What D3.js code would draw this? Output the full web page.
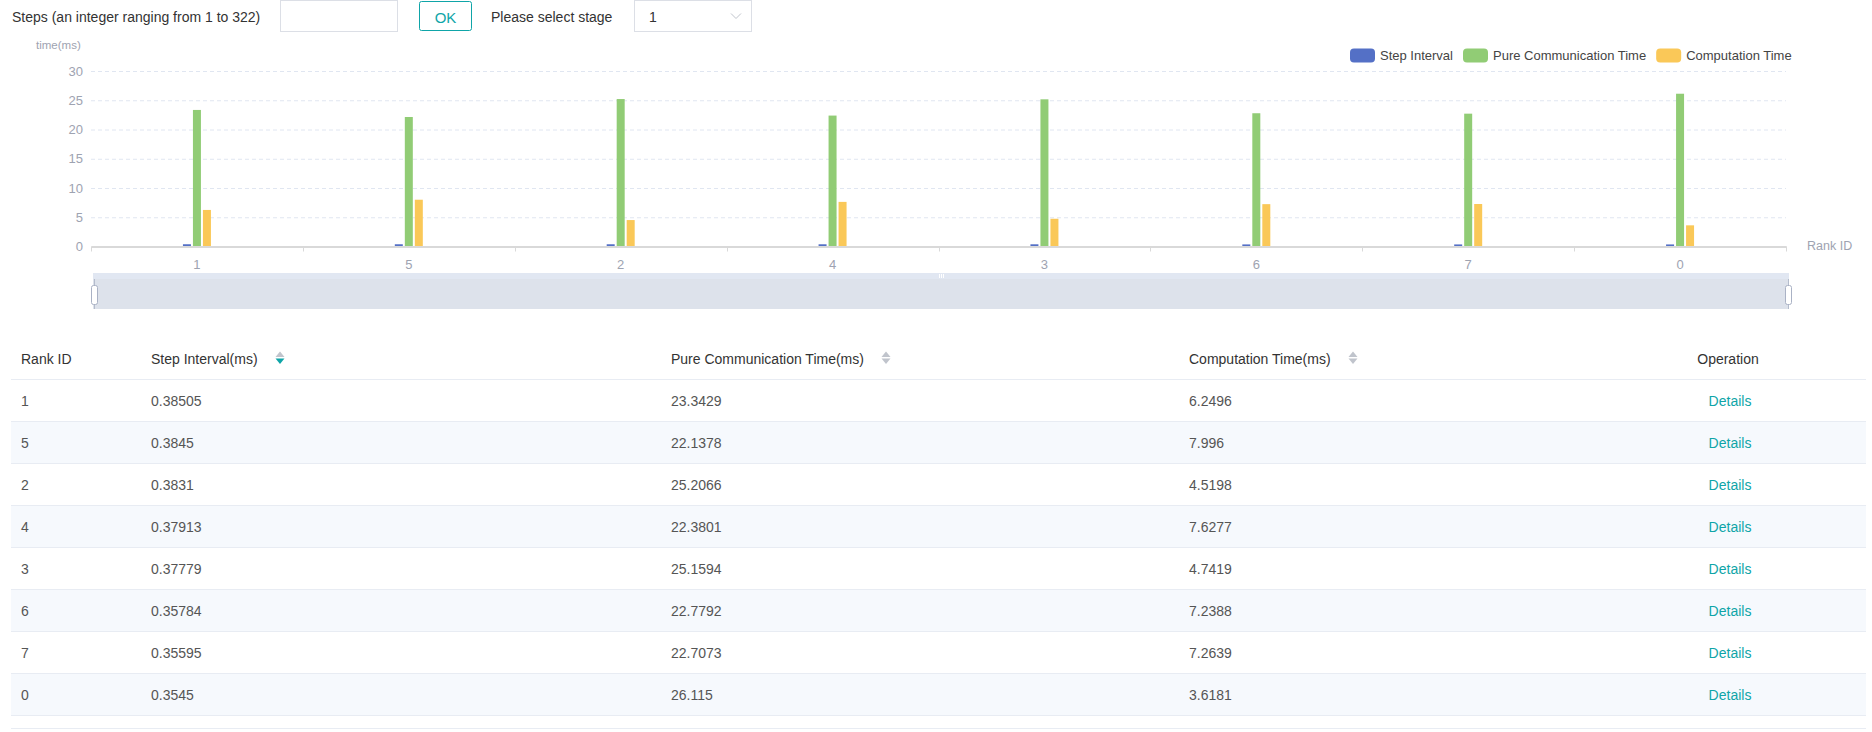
<!DOCTYPE html>
<html>
<head>
<meta charset="utf-8">
<script src="https://cdn.jsdelivr.net/npm/d3@7"></script>
<style>
  body { margin: 0; background: #fff; font-family: "Liberation Sans", Arial, sans-serif; }
  svg text { font-family: "Liberation Sans", Arial, sans-serif; }
</style>
</head>
<body>
<svg id="page" width="1872" height="732"></svg>
<script>
// chart data
var rankIds = ['1', '5', '2', '4', '3', '6', '7', '0'];
var stepInterval = [0.38505, 0.3845, 0.3831, 0.37913, 0.37779, 0.35784, 0.35595, 0.3545];
var pureComm = [23.3429, 22.1378, 25.2066, 22.3801, 25.1594, 22.7792, 22.7073, 26.115];
var computation = [6.2496, 7.996, 4.5198, 7.6277, 4.7419, 7.2388, 7.2639, 3.6181];
var seriesNames = ['Step Interval', 'Pure Communication Time', 'Computation Time'];
var seriesColors = ['#5470c6', '#91cc75', '#fac858'];
var tableHeaders = ['Rank ID', 'Step Interval(ms)', 'Pure Communication Time(ms)', 'Computation Time(ms)', 'Operation'];
// raw strings as shown in the table
var stepText = ['0.38505', '0.3845', '0.3831', '0.37913', '0.37779', '0.35784', '0.35595', '0.3545'];
var pureText = ['23.3429', '22.1378', '25.2066', '22.3801', '25.1594', '22.7792', '22.7073', '26.115'];
var compText = ['6.2496', '7.996', '4.5198', '7.6277', '4.7419', '7.2388', '7.2639', '3.6181'];

var teal = '#0fa5a8';
var labelColor = '#9ea3b1';
var svg = d3.select('#page');

// ---------- top controls ----------
var controls = svg.append('g');
controls.append('text').attr('x', 12).attr('y', 17).attr('dominant-baseline', 'central')
  .attr('font-size', 14).attr('fill', '#333').text('Steps (an integer ranging from 1 to 322)');
controls.append('rect').attr('x', 280.5).attr('y', 0.5).attr('width', 117).attr('height', 31)
  .attr('fill', '#fff').attr('stroke', '#dcdfe6');
controls.append('rect').attr('x', 419.5).attr('y', 1.5).attr('width', 52).attr('height', 29).attr('rx', 2)
  .attr('fill', '#fff').attr('stroke', teal);
controls.append('text').attr('x', 445.5).attr('y', 17).attr('text-anchor', 'middle').attr('dominant-baseline', 'central')
  .attr('font-size', 15).attr('fill', teal).text('OK');
controls.append('text').attr('x', 491).attr('y', 17).attr('dominant-baseline', 'central')
  .attr('font-size', 14).attr('fill', '#333').text('Please select stage');
controls.append('rect').attr('x', 634.5).attr('y', 0.5).attr('width', 117).attr('height', 31)
  .attr('fill', '#fff').attr('stroke', '#dcdfe6');
controls.append('text').attr('x', 649).attr('y', 17).attr('dominant-baseline', 'central')
  .attr('font-size', 14).attr('fill', '#333').text('1');
controls.append('path').attr('d', 'M731,13.5 L736,18.5 L741,13.5').attr('fill', 'none')
  .attr('stroke', '#c0c4cc').attr('stroke-width', 1);

// ---------- bar chart ----------
var chart = svg.append('g');
var x0 = d3.scaleBand().domain(rankIds).range([91, 1786]).padding(0);
var x1 = d3.scaleBand().domain(seriesNames).range([-14, 14]).paddingInner(0.2).paddingOuter(0);
var y = d3.scaleLinear().domain([0, 30]).range([246.5, 71]);

// grid lines
chart.append('g')
  .attr('transform', 'translate(91,0)')
  .call(d3.axisLeft(y).ticks(6).tickSize(-(1786 - 91)).tickFormat(''))
  .call(function(g) {
    g.select('.domain').remove();
    g.selectAll('.tick line').attr('stroke', '#e0e6f1').attr('stroke-dasharray', '4,3')
      .attr('opacity', function(d) { return d === 0 ? 0 : 1; });
  });

// y axis labels
chart.append('g')
  .attr('transform', 'translate(91,0)')
  .call(d3.axisLeft(y).ticks(6).tickSize(0).tickPadding(8))
  .call(function(g) {
    g.select('.domain').remove();
    g.selectAll('text').attr('fill', labelColor).attr('font-size', 13)
      .attr('font-family', '"Liberation Sans", Arial, sans-serif');
  });

chart.append('text').attr('x', 36).attr('y', 45).attr('dominant-baseline', 'central')
  .attr('font-size', 11.5).attr('fill', labelColor).text('time(ms)');

// bars
var seriesData = [stepInterval, pureComm, computation];
var groups = chart.selectAll('.rank').data(rankIds).enter().append('g')
  .attr('class', 'rank')
  .attr('transform', function(d) { return 'translate(' + (x0(d) + x0.bandwidth() / 2) + ',0)'; });

groups.selectAll('rect')
  .data(function(d, i) {
    return seriesNames.map(function(s, j) { return {name: s, value: seriesData[j][i], color: seriesColors[j]}; });
  })
  .enter().append('rect')
  .attr('x', function(d) { return x1(d.name); })
  .attr('width', x1.bandwidth())
  .attr('y', function(d) { return y(d.value); })
  .attr('height', function(d) { return y(0) - y(d.value); })
  .attr('fill', function(d) { return d.color; });

// x axis
chart.append('g')
  .attr('transform', 'translate(0,' + y(0) + ')')
  .call(d3.axisBottom(x0).tickSize(0).tickPadding(13))
  .call(function(g) {
    g.select('.domain').attr('stroke', '#d9d9d9').attr('stroke-width', 2);
    g.selectAll('text').attr('fill', labelColor).attr('font-size', 13)
      .attr('font-family', '"Liberation Sans", Arial, sans-serif');
  });

// tick marks at band boundaries
var bounds = rankIds.map(function(d) { return x0(d); }).concat([x0.range()[1]]);
chart.append('g').selectAll('line').data(bounds).enter().append('line')
  .attr('x1', function(d) { return Math.round(d) + 0.5; })
  .attr('x2', function(d) { return Math.round(d) + 0.5; })
  .attr('y1', y(0)).attr('y2', y(0) + 5)
  .attr('stroke', '#d9d9d9');

chart.append('text').attr('x', 1807).attr('y', 246).attr('dominant-baseline', 'central')
  .attr('font-size', 12.5).attr('fill', labelColor).text('Rank ID');

// legend
var legend = chart.append('g');
var lx = 1350;
seriesNames.forEach(function(s, i) {
  legend.append('rect').attr('x', lx).attr('y', 48.5).attr('width', 25).attr('height', 14).attr('rx', 4)
    .attr('fill', seriesColors[i]);
  var t = legend.append('text').attr('x', lx + 30).attr('y', 55.5).attr('dominant-baseline', 'central')
    .attr('font-size', 13).attr('fill', '#444').text(s);
  lx += 30 + t.node().getComputedTextLength() + 10;
});

// data zoom slider
var slider = chart.append('g');
slider.append('rect').attr('x', 93).attr('y', 273).attr('width', 1696).attr('height', 36).attr('fill', '#dde2eb');
slider.append('rect').attr('x', 93).attr('y', 273).attr('width', 1696).attr('height', 6).attr('fill', '#e1e7f2');
[94, 1788].forEach(function(hx) {
  slider.append('line').attr('x1', hx + 0.5).attr('x2', hx + 0.5).attr('y1', 279).attr('y2', 309)
    .attr('stroke', '#b4bccc');
  slider.append('rect').attr('x', hx - 2.5).attr('y', 285.5).attr('width', 6).attr('height', 19).attr('rx', 2)
    .attr('fill', '#fff').attr('stroke', '#aab2c5');
});
[939.5, 941.5, 943.5].forEach(function(mx) {
  slider.append('line').attr('x1', mx).attr('x2', mx).attr('y1', 274).attr('y2', 278)
    .attr('stroke', '#fff').attr('stroke-width', 1);
});

// ---------- table ----------
var table = svg.append('g');
var colX = [21, 151, 671, 1189, 1728];
var sortX = [null, 280, 886, 1353, null];
var rowY = d3.scaleBand().domain(d3.range(rankIds.length)).range([380, 380 + 42 * rankIds.length]);

table.selectAll('.row-bg').data(d3.range(rankIds.length)).enter().append('rect')
  .attr('x', 11).attr('width', 1855)
  .attr('y', function(i) { return rowY(i); })
  .attr('height', rowY.bandwidth())
  .attr('fill', function(i) { return i % 2 ? '#f6f9fd' : '#fff'; });

// borders
var borderYs = [380].concat(d3.range(rankIds.length).map(function(i) { return rowY(i) + rowY.bandwidth(); }));
table.selectAll('.border').data(borderYs).enter().append('line')
  .attr('x1', 11).attr('x2', 1866)
  .attr('y1', function(d) { return d - 0.5; }).attr('y2', function(d) { return d - 0.5; })
  .attr('stroke', '#e8ecf3');
table.append('line').attr('x1', 11).attr('x2', 1866).attr('y1', 728.5).attr('y2', 728.5).attr('stroke', '#e8ecf3');

tableHeaders.forEach(function(h, i) {
  table.append('text').attr('x', colX[i]).attr('y', 359).attr('dominant-baseline', 'central')
    .attr('text-anchor', i === 4 ? 'middle' : 'start')
    .attr('font-size', 14).attr('fill', '#333').text(h);
  if (sortX[i] !== null) {
    var cx = sortX[i];
    table.append('path').attr('d', 'M' + (cx - 4.5) + ',357 L' + (cx + 4.5) + ',357 L' + cx + ',351.5 Z')
      .attr('fill', '#c0c4cc');
    table.append('path').attr('d', 'M' + (cx - 4.5) + ',358.5 L' + (cx + 4.5) + ',358.5 L' + cx + ',364 Z')
      .attr('fill', i === 1 ? teal : '#c0c4cc');
  }
});

var rows = table.selectAll('.row').data(rankIds).enter().append('g')
  .attr('transform', function(d, i) { return 'translate(0,' + (rowY(i) + rowY.bandwidth() / 2) + ')'; });

[rankIds, stepText, pureText, compText].forEach(function(col, c) {
  rows.append('text').attr('x', colX[c]).attr('y', 0).attr('dominant-baseline', 'central')
    .attr('font-size', 14).attr('fill', '#555')
    .text(function(d, i) { return col[i]; });
});
rows.append('text').attr('x', 1730).attr('y', 0).attr('dominant-baseline', 'central')
  .attr('text-anchor', 'middle').attr('font-size', 14).attr('fill', teal).text('Details');
</script>
</body>
</html>
